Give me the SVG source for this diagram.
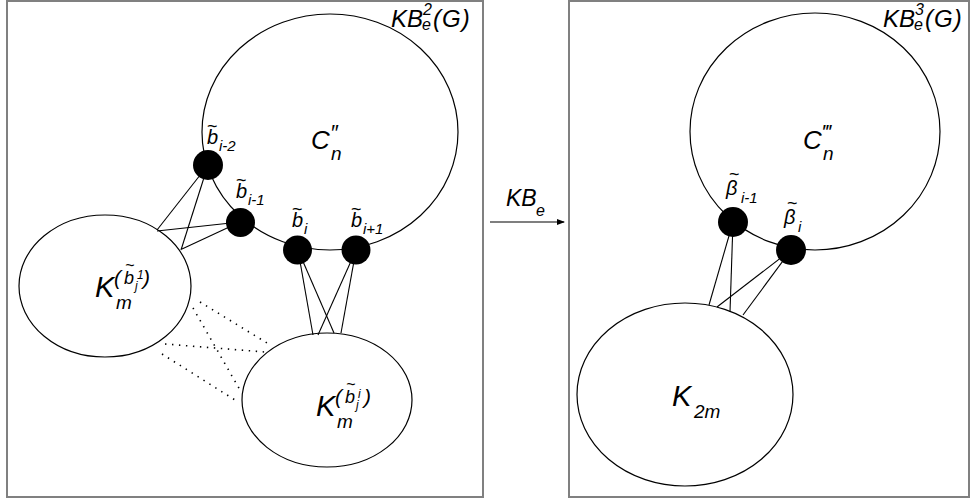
<svg xmlns="http://www.w3.org/2000/svg" width="971" height="504" viewBox="0 0 971 504">
<defs>
<style>
.box{fill:none;stroke:#808080;stroke-width:2}
.ell{fill:none;stroke:#000;stroke-width:1.2}
.edge{stroke:#000;stroke-width:1.1;fill:none}
.dot{stroke:#000;stroke-width:1.6;fill:none;stroke-dasharray:1.4 5.6}
.node{fill:#000}
text{font-family:"Liberation Sans",Arial,sans-serif;font-style:italic;fill:#000}
.big{font-size:29px}
.lab{font-size:20px}
.sub{font-size:15px}
.til{font-size:18px;font-style:normal}
</style>
<marker id="arr" markerWidth="8" markerHeight="6" refX="7" refY="3" orient="auto" markerUnits="userSpaceOnUse">
<path d="M0,0 L8,3 L0,6 Z" fill="#000"/>
</marker>
</defs>
<rect width="971" height="504" fill="#fff"/>

<g id="panel-left">
<rect class="box" x="7" y="1" width="476" height="496"/>
<text x="391" y="27" font-size="24">KB</text>
<text x="423" y="15" font-size="16">2</text>
<text x="422" y="30" font-size="16">e</text>
<text x="433" y="27" font-size="24" letter-spacing="1">(G)</text>
</g>

<g id="panel-right">
<rect class="box" x="569" y="1" width="400" height="496"/>
<text x="883" y="27" font-size="24">KB</text>
<text x="915" y="15" font-size="16">3</text>
<text x="914" y="30" font-size="16">e</text>
<text x="925" y="27" font-size="24" letter-spacing="1">(G)</text>
</g>

<g id="connectors">
<line class="edge" x1="208" y1="165" x2="157" y2="230"/>
<line class="edge" x1="208" y1="165" x2="181" y2="250"/>
<line class="edge" x1="240" y1="222" x2="157" y2="231"/>
<line class="edge" x1="240" y1="222" x2="182" y2="249"/>
<line class="edge" x1="298" y1="250" x2="313" y2="335"/>
<line class="edge" x1="298" y1="250" x2="334" y2="333"/>
<line class="edge" x1="356" y1="250" x2="318" y2="335"/>
<line class="edge" x1="356" y1="250" x2="341" y2="333"/>
<line class="dot" x1="200" y1="302" x2="267" y2="343"/>
<line class="dot" x1="193" y1="308" x2="240" y2="390"/>
<line class="dot" x1="165" y1="344" x2="265" y2="352"/>
<line class="dot" x1="162" y1="354" x2="235" y2="400"/>
<line class="edge" x1="733" y1="222" x2="709" y2="305"/>
<line class="edge" x1="733" y1="222" x2="730" y2="312"/>
<line class="edge" x1="791" y1="250" x2="717" y2="307"/>
<line class="edge" x1="791" y1="250" x2="743" y2="315"/>
<line class="edge" x1="490" y1="222" x2="564" y2="222" marker-end="url(#arr)"/>
<text x="506" y="206" font-size="23">KB</text>
<text x="536" y="216" font-size="16">e</text>
</g>

<g id="C2n">
<ellipse class="ell" cx="330" cy="132" rx="128" ry="118"/>
<text x="311" y="149" font-size="26">C</text>
<text x="330" y="140" font-size="22">″</text>
<text x="331" y="160" font-size="19">n</text>
</g>

<g id="Km-left">
<ellipse class="ell" cx="105" cy="286" rx="86" ry="71"/>
<text class="big" x="95" y="297">K</text>
<text x="116" y="309" font-size="19">m</text>
<text x="114" y="285" font-size="21">(</text>
<text x="124" y="284" font-size="18">b</text>
<text x="125" y="271" font-size="16" font-style="normal">~</text>
<text x="135" y="290" font-size="12">j</text>
<text x="137" y="279" font-size="12">1</text>
<text x="143" y="285" font-size="21">)</text>
</g>

<g id="Km-right">
<ellipse class="ell" cx="327" cy="400" rx="85" ry="67"/>
<text class="big" x="316" y="416">K</text>
<text x="337" y="428" font-size="19">m</text>
<text x="335" y="404" font-size="21">(</text>
<text x="345" y="403" font-size="18">b</text>
<text x="346" y="390" font-size="16" font-style="normal">~</text>
<text x="356" y="409" font-size="12">j</text>
<text x="358" y="398" font-size="12">i</text>
<text x="364" y="404" font-size="21">)</text>
</g>

<g id="b-i-2">
<circle class="node" cx="208" cy="165" r="15"/>
<text class="lab" x="207" y="144">b</text>
<text class="til" x="207" y="132">~</text>
<text class="sub" x="219" y="151">i-2</text>
</g>
<g id="b-i-1">
<circle class="node" cx="240.5" cy="222.5" r="14.5"/>
<text class="lab" x="236" y="198">b</text>
<text class="til" x="236" y="186">~</text>
<text class="sub" x="248" y="205">i-1</text>
</g>
<g id="b-i">
<circle class="node" cx="297.5" cy="250" r="14.5"/>
<text class="lab" x="292" y="227">b</text>
<text class="til" x="292" y="215">~</text>
<text class="sub" x="304" y="234">i</text>
</g>
<g id="b-i+1">
<circle class="node" cx="356" cy="250" r="14.5"/>
<text class="lab" x="351" y="227">b</text>
<text class="til" x="351" y="215">~</text>
<text class="sub" x="363" y="234">i+1</text>
</g>

<g id="C3n">
<ellipse class="ell" cx="815" cy="131.5" rx="125" ry="118.5"/>
<text x="803" y="149" font-size="26">C</text>
<text x="822" y="140" font-size="22">‴</text>
<text x="823" y="160" font-size="19">n</text>
</g>

<g id="K2m">
<ellipse class="ell" cx="685" cy="394.5" rx="108" ry="91.5"/>
<text class="big" x="672" y="406">K</text>
<text x="694" y="418" font-size="19">2m</text>
</g>

<g id="beta-i-1">
<circle class="node" cx="733" cy="222" r="15"/>
<text class="lab" x="726" y="195">β</text>
<text class="til" x="729" y="180">~</text>
<text class="sub" x="741" y="203">i-1</text>
</g>
<g id="beta-i">
<circle class="node" cx="791" cy="250" r="15"/>
<text class="lab" x="784" y="224">β</text>
<text class="til" x="787" y="209">~</text>
<text class="sub" x="798" y="232">i</text>
</g>
</svg>
